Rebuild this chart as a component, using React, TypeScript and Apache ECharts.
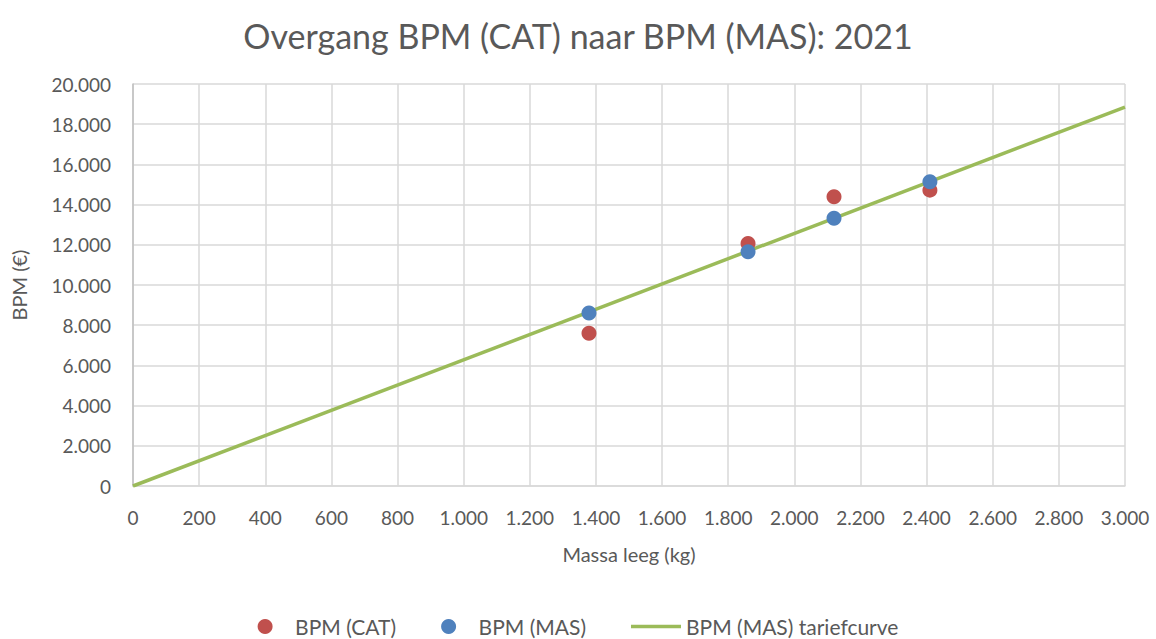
import React, { useEffect, useRef } from "react";
import * as echarts from "echarts";

const catMass = [1379, 1860, 2120, 2410];
const catBpm = [7600, 12070, 14390, 14720];
const masMass = [1379, 1860, 2120, 2410];
const masBpm = [8610, 11660, 13320, 15140];
const curveMass = [0, 3000];
const curveBpm = [0, 18850];

const fmt = (v: number) => v.toLocaleString("nl-NL");
const FONT = "Lato, 'Open Sans', sans-serif";
const GREY = "#595959";

export default function App() {
  const ref = useRef<HTMLDivElement>(null);
  useEffect(() => {
    document.body.style.margin = "0";
    const chart = echarts.init(ref.current!, null, { renderer: "svg" });
    chart.setOption({
      animation: false,
      textStyle: { fontFamily: FONT, color: GREY },
      title: {
        text: "Overgang BPM (CAT) naar BPM (MAS): 2021",
        left: "center",
        top: 13,
        textStyle: { fontFamily: FONT, fontSize: 34, fontWeight: "normal", color: GREY },
      },
      grid: { left: 133, right: 31, top: 84, bottom: 153, outerBoundsMode: "none", containLabel: false },
      xAxis: {
        type: "value",
        min: 0,
        max: 3000,
        interval: 200,
        name: "Massa leeg (kg)",
        nameLocation: "middle",
        nameGap: 58,
        nameTextStyle: { fontSize: 20, color: GREY, fontFamily: FONT },
        axisLabel: { fontSize: 19, color: GREY, margin: 22, formatter: (v: number) => fmt(v) },
        axisLine: { show: true, lineStyle: { color: "#d9d9d9", width: 1.5 } },
        axisTick: { show: false },
        splitLine: { show: true, lineStyle: { color: "#d9d9d9", width: 1.5 } },
      },
      yAxis: {
        type: "value",
        min: 0,
        max: 20000,
        interval: 2000,
        name: "BPM (€)",
        nameLocation: "middle",
        nameGap: 104,
        nameTextStyle: { fontSize: 20, color: GREY, fontFamily: FONT },
        axisLabel: { fontSize: 19, color: GREY, margin: 22, formatter: (v: number) => fmt(v) },
        axisLine: { show: true, lineStyle: { color: "#bfbfbf", width: 1.5 } },
        axisTick: { show: false },
        splitLine: { show: true, lineStyle: { color: "#d9d9d9", width: 1.5 } },
      },
      legend: {
        top: 611,
        left: "center",
        itemGap: 45,
        itemWidth: 50,
        itemHeight: 15,
        textStyle: { fontSize: 21, color: GREY, fontFamily: FONT },
        data: [
          { name: "BPM (CAT)", icon: "circle" },
          { name: "BPM (MAS)", icon: "circle" },
          { name: "BPM (MAS) tariefcurve", icon: "path://M0,0 L50,0 L50,3.5 L0,3.5 Z" },
        ],
      },
      series: [
        {
          name: "BPM (MAS) tariefcurve",
          type: "line",
          data: curveMass.map((m, i) => [m, curveBpm[i]]),
          showSymbol: false,
          symbol: "none",
          lineStyle: { color: "#9bbb59", width: 3.5 },
          itemStyle: { color: "#9bbb59" },
          z: 1,
        },
        {
          name: "BPM (CAT)",
          type: "scatter",
          data: catMass.map((m, i) => [m, catBpm[i]]),
          symbolSize: 15,
          itemStyle: { color: "#c0504d", opacity: 1 },
          z: 2,
        },
        {
          name: "BPM (MAS)",
          type: "scatter",
          data: masMass.map((m, i) => [m, masBpm[i]]),
          symbolSize: 15,
          itemStyle: { color: "#4f81bd", opacity: 1 },
          z: 3,
        },
      ],
    });
    return () => chart.dispose();
  }, []);
  return <div ref={ref} style={{ width: 1156, height: 639 }} />;
}
